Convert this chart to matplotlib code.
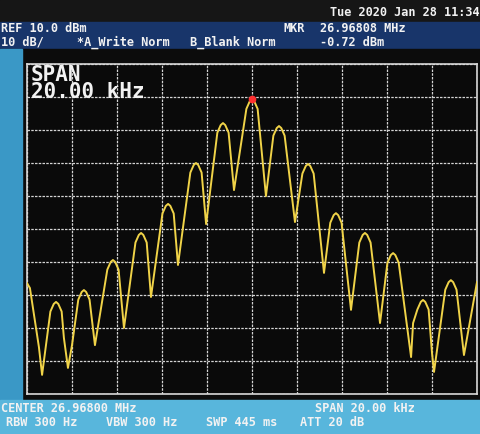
import matplotlib.pyplot as plt
from matplotlib.patches import Rectangle

# 画面の設定値
center_mhz = 26.968
span_khz = 20.0
ref_dbm = 10.0
db_per_div = 10.0

# トレース（中心からの周波数オフセット kHz, レベル dBm）
trace_khz = [-10.0, -9.87, -9.47, -9.33,
             -8.96, -8.81, -8.71, -8.61, -8.46, -8.36, -8.18, -8.00,
             -7.72, -7.57, -7.47, -7.37, -7.22, -6.98,
             -6.43, -6.28, -6.18, -6.08, -5.93, -5.69,
             -5.18, -5.03, -4.93, -4.83, -4.68, -4.49,
             -3.98, -3.83, -3.73, -3.63, -3.48, -3.29,
             -2.74, -2.59, -2.49, -2.39, -2.24, -2.04,
             -1.54, -1.39, -1.29, -1.19, -1.04, -0.80,
             -0.25, -0.10, 0.0, 0.10, 0.25, 0.62,
             0.95, 1.10, 1.20, 1.30, 1.45, 1.91,
             2.24, 2.39, 2.49, 2.59, 2.74, 3.20,
             3.48, 3.63, 3.73, 3.83, 3.98, 4.40,
             4.77, 4.92, 5.02, 5.12, 5.27, 5.69,
             6.02, 6.17, 6.27, 6.37, 6.52, 7.07, 7.16,
             7.35, 7.50, 7.60, 7.70, 7.85, 8.00, 8.09,
             8.59, 8.74, 8.84, 8.94, 9.09, 9.42, 10.0]
trace_dbm = [-56.4, -57.9, -75.8, -84.2,
             -65.0, -62.7, -62.1, -62.7, -65.0, -73.0, -82.1, -75.2,
             -61.4, -59.1, -58.5, -59.1, -61.4, -75.2,
             -52.3, -50.0, -49.4, -50.0, -52.3, -70.0,
             -44.1, -41.8, -41.2, -41.8, -44.1, -60.6,
             -35.3, -33.0, -32.4, -33.0, -35.3, -50.9,
             -22.9, -20.6, -20.0, -20.6, -22.9, -38.5,
             -10.8, -8.5, -7.9, -8.5, -10.8, -28.2,
             -3.6, -1.3, -0.72, -1.3, -3.6, -30.0,
             -11.7, -9.4, -8.8, -9.4, -11.7, -37.9,
             -23.2, -20.9, -20.3, -20.9, -23.2, -53.3,
             -38.1, -35.8, -35.2, -35.8, -38.1, -64.5,
             -44.1, -41.8, -41.2, -41.8, -44.1, -68.5,
             -50.2, -47.9, -47.3, -47.9, -50.2, -78.8, -68.5,
             -64.4, -62.1, -61.5, -62.1, -64.4, -77.6, -83.3,
             -58.4, -56.1, -55.5, -56.1, -58.4, -78.2, -56.1]

# マーカー
mkr_khz = 0.0
mkr_dbm = -0.72

fig = plt.figure(figsize=(4.8, 4.34), dpi=100)
fig.patch.set_facecolor("#0b0b0c")

W, H = 480.0, 434.0
def frect(x0, y0, x1, y1, color):
    # ピクセル座標（上が0）で背景の帯を描く
    fig.patches.append(Rectangle((x0 / W, 1 - y1 / H), (x1 - x0) / W, (y1 - y0) / H,
                                 transform=fig.transFigure, color=color, zorder=-5))

frect(0, 0, 480, 22, "#161616")
frect(0, 22, 480, 49, "#18356a")
frect(0, 49, 480, 400, "#0c0c0c")
frect(0, 49, 22, 400, "#3a98c6")
frect(0, 400, 480, 434, "#58b6dc")

mono = {"family": "DejaVu Sans Mono", "weight": "bold", "color": "#f2f2f2"}
def ftext(x, y, s, size=8.6, **kw):
    fig.text(x / W, 1 - y / H, s, fontsize=size, va="center", ha="left", **mono, **kw)

ftext(330, 12, "Tue 2020 Jan 28 11:34")
ftext(1, 29, "REF 10.0 dBm")
ftext(1, 42, "10 dB/")
ftext(77, 42, "*A_Write Norm")
ftext(190, 42, "B_Blank Norm")
ftext(284, 29, "MKR")
ftext(320, 29, "26.96808 MHz")
ftext(320, 42, "-0.72 dBm")
ftext(1, 409, "CENTER 26.96800 MHz")
ftext(315, 409, "SPAN 20.00 kHz")
ftext(6, 422, "RBW 300 Hz")
ftext(106, 422, "VBW 300 Hz")
ftext(206, 422, "SWP 445 ms")
ftext(300, 422, "ATT 20 dB")

ax = fig.add_axes([27 / W, 1 - 394 / H, 450 / W, 330 / H])
ax.set_facecolor("#0a0a0a")
ax.set_xlim(-span_khz / 2, span_khz / 2)
ax.set_ylim(ref_dbm - 10 * db_per_div, ref_dbm)
ax.set_xticks([-span_khz / 2 + 2 * i for i in range(11)])
ax.set_yticks([ref_dbm - db_per_div * i for i in range(11)])
ax.tick_params(length=0, labelbottom=False, labelleft=False)
ax.grid(True, color="#d4d4d4", lw=0.9, linestyle=(0, (2, 1)))
for s in ax.spines.values():
    s.set_color("#d8d8d8")
    s.set_linewidth(1.2)

ax.plot(trace_khz, trace_dbm, color="#f0d348", lw=1.4, zorder=3,
        solid_joinstyle="round")
ax.plot([mkr_khz], [mkr_dbm], "o", color="#ff3030", ms=4.5, zorder=4)

ax.text(0.008, 0.997, "SPAN\n20.00 kHz", transform=ax.transAxes, va="top", ha="left",
        fontsize=15, linespacing=0.82, **mono)

fig.savefig("out.png", dpi=100, facecolor=fig.get_facecolor())
